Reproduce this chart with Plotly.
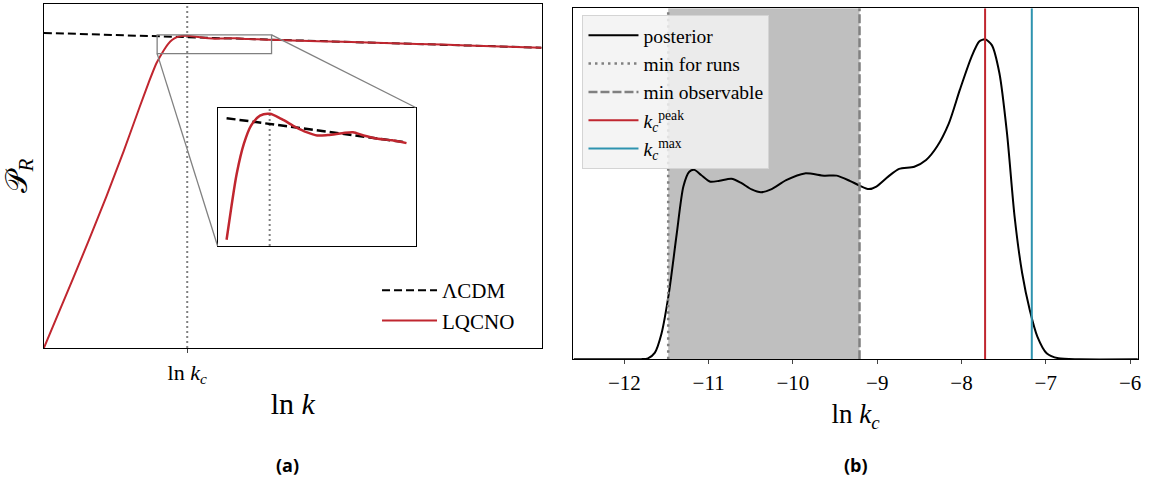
import numpy as np
import plotly.graph_objects as go

# ---------------- data: panel (a) (schematic, normalised units) ----------------
lnk_c = 0.288
lcdm_x = [0.0, 0.238, 0.447, 1.0]
lcdm_y = [0.916, 0.906, 0.8965, 0.873]
lqc_x = [0.0, 0.03, 0.0587, 0.09, 0.1257, 0.16, 0.1924, 0.212, 0.2259, 0.238, 0.2436, 0.2498,
         0.2581, 0.2664, 0.2768, 0.288, 0.3016, 0.3182, 0.3307, 0.3431, 0.3556, 0.3722, 0.3846,
         0.397, 0.4136, 0.4302, 0.4468, 0.5, 0.6, 0.7, 0.8, 0.9, 1.0]
lqc_y = [0.0, 0.1035, 0.2026, 0.312, 0.441, 0.571, 0.7006, 0.777, 0.827, 0.8583, 0.8713, 0.8843,
         0.896, 0.9031, 0.907, 0.9077, 0.9057, 0.9025, 0.9005, 0.8992, 0.8994, 0.9001, 0.9005,
         0.8992, 0.8979, 0.8973, 0.8962, 0.894, 0.890, 0.886, 0.882, 0.877, 0.873]
inset_lo, inset_hi = 0.238, 0.447

# ---------------- data: panel (b) ----------------
post_x = [-12.6, -12.0, -11.8, -11.72, -11.64, -11.56, -11.47, -11.38, -11.30, -11.23,
          -11.17, -11.09, -10.98, -10.87, -10.73, -10.62, -10.49, -10.38, -10.26, -10.08,
          -9.86, -9.63, -9.48, -9.32, -9.21, -9.10, -9.01, -8.87, -8.74, -8.56, -8.42,
          -8.29, -8.15, -8.02, -7.88, -7.79, -7.72, -7.64, -7.55, -7.46, -7.37, -7.28,
          -7.19, -7.10, -6.99, -6.85, -6.6, -5.9]
post_y = [0, 0, 0.0005, 0.003, 0.02, 0.08, 0.21, 0.39, 0.54, 0.586,
          0.592, 0.576, 0.555, 0.558, 0.564, 0.552, 0.531, 0.522, 0.531, 0.56,
          0.581, 0.574, 0.574, 0.557, 0.543, 0.532, 0.54, 0.571, 0.595, 0.602, 0.623,
          0.665, 0.7375, 0.842, 0.946, 0.993, 1.0, 0.982, 0.894, 0.706, 0.446, 0.269,
          0.154, 0.071, 0.019, 0.003, 0, 0]
min_runs = -11.48
min_obs = -9.21
kc_peak = -7.72
kc_max = -7.166
xticks_b = [-12, -11, -10, -9, -8, -7, -6]

# ---------------- styling / layout constants ----------------
W, H = 1152, 489
RED = "#C0262F"
TEAL = "#2E93AF"
GRAY = "#808080"
SHADE = "#BFBFBF"
FONT = "Liberation Serif"

def px_dom_x(a, b):
    return [a / W, b / W]

def px_dom_y(top, bottom):
    return [1 - bottom / H, 1 - top / H]

domA_x = px_dom_x(44, 543)
domA_y = px_dom_y(4, 348)
domB_x = px_dom_x(574.8, 1140.7)
domB_y = px_dom_y(8.3, 359.3)
xrangeB = [-12.606, -5.909]
yrangeB = [0, 1.097]

# inset placement in fraction of panel (a) axes
inset_fx = [0.349, 0.747]
inset_fy = [0.2965, 0.699]
inset_dom_x = [domA_x[0] + f * (domA_x[1] - domA_x[0]) for f in inset_fx]
inset_dom_y = [domA_y[0] + f * (domA_y[1] - domA_y[0]) for f in inset_fy]

lqc_xa, lqc_ya = np.array(lqc_x), np.array(lqc_y)
lcdm_xa, lcdm_ya = np.array(lcdm_x), np.array(lcdm_y)
m1 = (lqc_xa >= inset_lo - 1e-9) & (lqc_xa <= inset_hi + 1e-9)
m2 = (lcdm_xa >= inset_lo - 1e-9) & (lcdm_xa <= inset_hi + 1e-9)
ix_l, iy_l = lqc_xa[m1], lqc_ya[m1]
ix_c, iy_c = lcdm_xa[m2], lcdm_ya[m2]
allx = np.concatenate([ix_l, ix_c]); ally = np.concatenate([iy_l, iy_c])
px_ = 0.05 * (allx.max() - allx.min()); py_ = 0.05 * (ally.max() - ally.min())
inset_xr = [allx.min() - px_, allx.max() + px_]
inset_yr = [ally.min() - py_, ally.max() + py_]

fig = go.Figure()

# ----- panel (a) main -----
fig.add_trace(go.Scatter(x=[lnk_c, lnk_c], y=[0, 1], mode="lines",
                         line=dict(color=GRAY, width=2, dash="2px,3px"),
                         showlegend=False, hoverinfo="skip", xaxis="x", yaxis="y"))
fig.add_trace(go.Scatter(x=lcdm_x, y=lcdm_y, mode="lines", name="ΛCDM",
                         line=dict(color="black", width=2, dash="8px,4px"),
                         xaxis="x", yaxis="y", legend="legend"))
fig.add_trace(go.Scatter(x=lqc_x, y=lqc_y, mode="lines", name="LQCNO",
                         line=dict(color=RED, width=2, shape="spline", smoothing=0.5),
                         xaxis="x", yaxis="y", legend="legend"))

# ----- inset -----
fig.add_trace(go.Scatter(x=[lnk_c, lnk_c], y=inset_yr, mode="lines",
                         line=dict(color=GRAY, width=2, dash="2px,3px"),
                         showlegend=False, hoverinfo="skip", xaxis="x3", yaxis="y3"))
fig.add_trace(go.Scatter(x=ix_c, y=iy_c, mode="lines",
                         line=dict(color="black", width=2.5, dash="9px,4px"),
                         showlegend=False, xaxis="x3", yaxis="y3"))
fig.add_trace(go.Scatter(x=ix_l, y=iy_l, mode="lines",
                         line=dict(color=RED, width=2.5, shape="spline", smoothing=0.8),
                         showlegend=False, xaxis="x3", yaxis="y3"))

# ----- panel (b) -----
fig.add_trace(go.Scatter(x=post_x, y=post_y, mode="lines", name="posterior",
                         line=dict(color="black", width=2, shape="spline", smoothing=0.7),
                         xaxis="x2", yaxis="y2", legend="legend2"))
fig.add_trace(go.Scatter(x=[min_runs, min_runs], y=yrangeB, mode="lines", name="min for runs",
                         line=dict(color=GRAY, width=2.5, dash="2.5px,4px"),
                         xaxis="x2", yaxis="y2", legend="legend2"))
fig.add_trace(go.Scatter(x=[min_obs, min_obs], y=yrangeB, mode="lines", name="min observable",
                         line=dict(color=GRAY, width=2.5, dash="9px,3px"),
                         xaxis="x2", yaxis="y2", legend="legend2"))
fig.add_trace(go.Scatter(x=[kc_peak, kc_peak], y=yrangeB, mode="lines",
                         name="<i>k<sub>c</sub></i><sup>peak</sup>",
                         line=dict(color=RED, width=2),
                         xaxis="x2", yaxis="y2", legend="legend2"))
fig.add_trace(go.Scatter(x=[kc_max, kc_max], y=yrangeB, mode="lines",
                         name="<i>k<sub>c</sub></i><sup>max</sup>",
                         line=dict(color=TEAL, width=2),
                         xaxis="x2", yaxis="y2", legend="legend2"))

shapes = [
    dict(type="rect", xref="x2", yref="y2", x0=min_runs, x1=min_obs, y0=yrangeB[0], y1=yrangeB[1],
         fillcolor=SHADE, line=dict(width=0), layer="below"),
    dict(type="rect", xref="x", yref="y", x0=inset_xr[0], x1=inset_xr[1], y0=inset_yr[0], y1=inset_yr[1],
         line=dict(color=GRAY, width=1.3)),
    dict(type="line", xref="x", yref="y", x0=inset_xr[0], y0=inset_yr[0], x1=inset_fx[0], y1=inset_fy[0],
         line=dict(color=GRAY, width=1.3)),
    dict(type="line", xref="x", yref="y", x0=inset_xr[1], y0=inset_yr[1], x1=inset_fx[1], y1=inset_fy[1],
         line=dict(color=GRAY, width=1.3)),
]

axis_common = dict(showgrid=False, zeroline=False, showline=True, mirror=True,
                   linecolor="black", linewidth=1.2)

fig.update_layout(
    width=W, height=H, margin=dict(l=0, r=0, t=0, b=0),
    paper_bgcolor="white", plot_bgcolor="white",
    font=dict(family=FONT, color="black"),
    shapes=shapes,
    xaxis=dict(domain=domA_x, range=[0, 1], tickmode="array", tickvals=[lnk_c],
               ticktext=["ln <i>k<sub>c</sub></i>"], ticks="outside", ticklen=4, tickwidth=1,
               tickfont=dict(size=22, family=FONT),
               title=dict(text="ln <i>k</i>", font=dict(size=30, family=FONT), standoff=6),
               **axis_common),
    yaxis=dict(domain=domA_y, range=[0, 1], showticklabels=False, ticks="",
               title=dict(text="𝒫<sub><i>R</i></sub>", font=dict(size=30, family=FONT), standoff=6),
               **axis_common),
    xaxis3=dict(domain=inset_dom_x, range=inset_xr, showticklabels=False, ticks="",
                anchor="y3", **axis_common),
    yaxis3=dict(domain=inset_dom_y, range=inset_yr, showticklabels=False, ticks="",
                anchor="x3", **axis_common),
    xaxis2=dict(domain=domB_x, range=xrangeB, anchor="y2", tickmode="array", tickvals=xticks_b,
                ticks="outside", ticklen=4, tickwidth=1, tickfont=dict(size=21, family=FONT),
                title=dict(text="ln <i>k<sub>c</sub></i>", font=dict(size=27, family=FONT), standoff=10),
                **axis_common),
    yaxis2=dict(domain=domB_y, range=yrangeB, anchor="x2", showticklabels=False, ticks="",
                **axis_common),
    legend=dict(x=378 / W, y=1 - 270 / H, xanchor="left", yanchor="top",
                bgcolor="rgba(0,0,0,0)", borderwidth=0, font=dict(size=21, family=FONT),
                itemwidth=55, tracegroupgap=0),
    legend2=dict(x=584 / W, y=1 - 15 / H, xanchor="left", yanchor="top",
                 bgcolor="rgba(242,242,242,0.85)", bordercolor="#d4d4d4", borderwidth=1,
                 font=dict(size=19.5, family=FONT), itemwidth=50),
    annotations=[
        dict(text="<b>(a)</b>", x=288 / W, y=1 - 465 / H, xref="paper", yref="paper",
             xanchor="center", yanchor="middle",
             showarrow=False, font=dict(size=18, family="Open Sans")),
        dict(text="<b>(b)</b>", x=858 / W, y=1 - 465 / H, xref="paper", yref="paper",
             xanchor="center", yanchor="middle",
             showarrow=False, font=dict(size=18, family="Open Sans")),
    ],
)

fig.write_html("out.html")
